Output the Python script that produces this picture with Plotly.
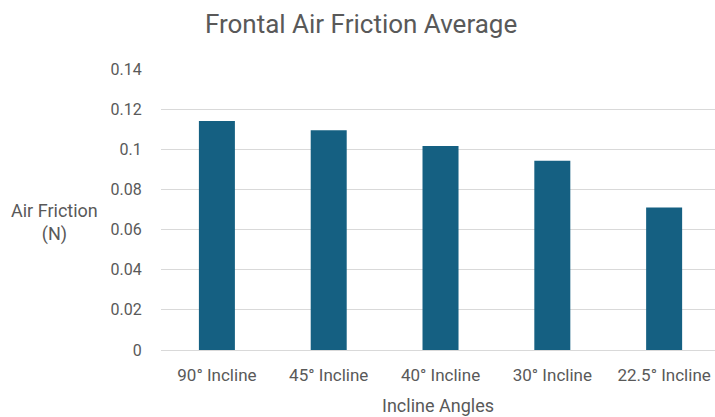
import plotly.graph_objects as go

categories = ["90° Incline", "45° Incline", "40° Incline", "30° Incline", "22.5° Incline"]
values = [0.1141, 0.1095, 0.1016, 0.0943, 0.0710]
y_ticks = [0, 0.02, 0.04, 0.06, 0.08, 0.1, 0.12, 0.14]
y_tick_labels = ["0", "0.02", "0.04", "0.06", "0.08", "0.1", "0.12", "0.14"]

FONT = "Roboto"
GRAY = "#595959"

fig = go.Figure(go.Bar(x=categories, y=values, marker=dict(color="#156082", line=dict(width=0))))

fig.update_layout(
    width=715, height=417,
    margin=dict(l=161, r=0, t=69, b=67, autoexpand=False),
    paper_bgcolor="white", plot_bgcolor="white",
    bargap=0.678,
    showlegend=False,
    font=dict(family=FONT, color=GRAY, size=16),
    title=dict(text="Frontal Air Friction Average", x=0.505, xanchor="center",
               y=0.943, yanchor="middle", font=dict(size=26, color=GRAY, family=FONT)),
    xaxis=dict(type="category", range=[-0.5, 4.455], showgrid=False, showline=True,
               linecolor="#d9d9d9", linewidth=1, ticks="", tickfont=dict(size=17, color=GRAY),
               ticklabelstandoff=10,
               title=dict(text="Incline Angles", font=dict(size=18, color=GRAY), standoff=14)),
    yaxis=dict(range=[0, 0.14], tickvals=y_ticks, ticktext=y_tick_labels, showgrid=True,
               gridcolor="#d9d9d9", gridwidth=1, zeroline=False, showline=False,
               ticks="outside", ticklen=15, tickcolor="rgba(0,0,0,0)",
               tickfont=dict(size=16, color=GRAY)),
)

fig.add_annotation(text="Air Friction<br>(N)", xref="paper", yref="paper",
                   x=-0.1925, y=0.455, xanchor="center", yanchor="middle", showarrow=False,
                   font=dict(size=18, color=GRAY, family=FONT), align="center")

fig.write_html("out.html", config={"displayModeBar": False},
               post_script="document.body.style.margin='0';document.body.style.overflow='hidden';")
